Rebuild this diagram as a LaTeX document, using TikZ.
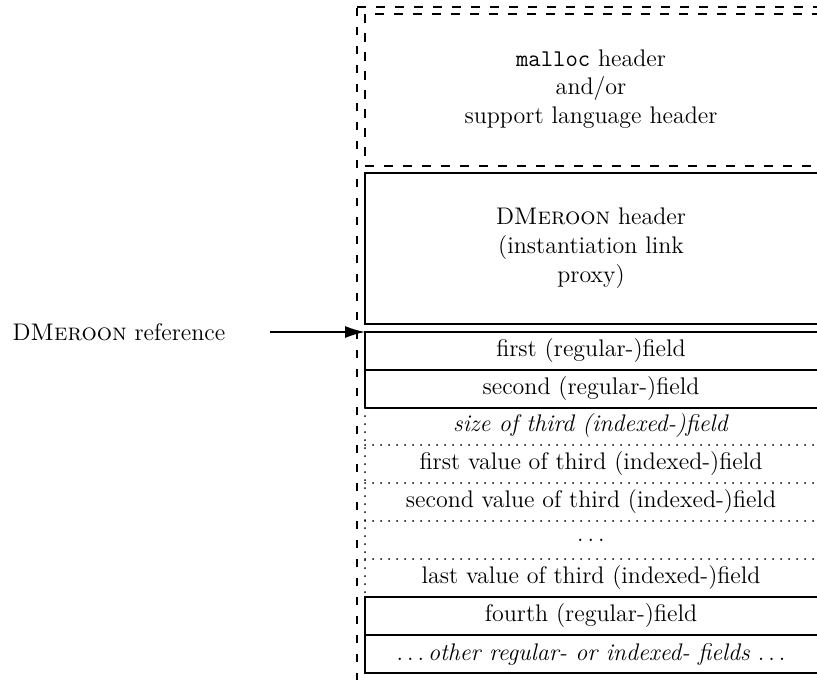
\documentclass[tikz,border=0pt]{standalone}
\usetikzlibrary{arrows.meta}
\begin{document}
\begin{tikzpicture}[x=0.5pt,y=-0.5pt,
    font=\fontsize{12}{14.4}\selectfont,
    line width=0.7pt,
    outerdash/.style={dash pattern=on 4.5pt off 5pt},
    sidedash/.style={dash pattern=on 4pt off 5.5pt},
    dotline/.style={line cap=round, dash pattern=on 0.1pt off 3.9pt, line width=0.8pt},
    lbl/.style={inner sep=0pt, align=center},
  ]
  \useasboundingbox (0,0) rectangle (817,679);
  \clip (0,0) rectangle (817,679);

  % enclosing memory block (dashed)
  \draw[sidedash] (357,700) -- (357,7);
  \draw[outerdash] (357,7) -- (840,7);

  % malloc / support language header (dashed)
  \draw[outerdash] (840,14) -- (365,14) -- (365,166) -- (840,166);
  \node[lbl] (malloc) at (591,89) {\texttt{malloc} header\\and/or\\support language header};

  % DMeroon header
  \draw (840,173) -- (365,173) -- (365,324) -- (840,324);
  \node[lbl] (dmhead) at (591,248) {D\textsc{Meroon} header\\(instantiation link\\proxy)};

  % regular fields
  \draw (840,332) -- (365,332) -- (365,408);
  \draw (365,370) -- (840,370);
  \draw (365,408) -- (840,408);
  \node[lbl] (f1) at (591,351) {first (regular-)field};
  \node[lbl] (f2) at (591,389) {second (regular-)field};

  % indexed field (dotted)
  \draw[dotline] (365,408) -- (365,597);
  \foreach \yy in {445,483,521,559}
    \draw[dotline] (365,\yy) -- (840,\yy);
  \node[lbl] (isize) at (591,426) {\textit{size of third (indexed-)field}};
  \node[lbl] (ifirst) at (591,464) {first value of third (indexed-)field};
  \node[lbl] (isecond) at (591,502) {second value of third (indexed-)field};
  \node[lbl] (idots) at (591,540) {$\ldots$};
  \node[lbl] (ilast) at (591,578) {last value of third (indexed-)field};

  % remaining fields
  \draw (840,597) -- (365,597) -- (365,673) -- (840,673);
  \draw (365,635) -- (840,635);
  \node[lbl] (f4) at (591,616) {fourth (regular-)field};
  \node[lbl] (fother) at (591,654) {$\ldots$\,\textit{other regular- or indexed- fields} $\ldots$};

  % reference pointer
  \node[lbl, anchor=east] (ref) at (226,332) {D\textsc{Meroon} reference};
  \coordinate (tail) at (270,332);
  \coordinate (tip) at (365,332);
  \draw[-{Latex[length=10pt,width=6pt]}] (tail) -- (tip);
\end{tikzpicture}
\end{document}
